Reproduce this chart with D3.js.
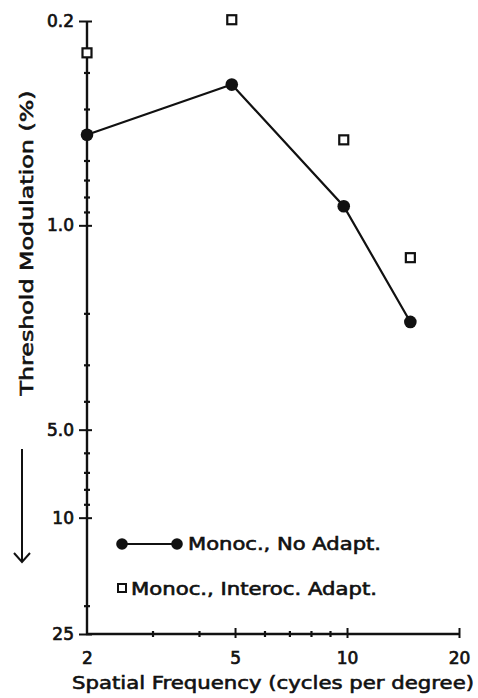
<!DOCTYPE html>
<html>
<head>
<meta charset="utf-8">
<script src="https://cdn.jsdelivr.net/npm/d3@7"></script>
<style>
  html, body { margin: 0; padding: 0; background: #fff; }
  svg { display: block; }
  text { font-family: "DejaVu Sans", sans-serif; fill: #111; stroke: #111; stroke-width: 0.6px; }
</style>
</head>
<body>
<svg id="chart" width="478" height="698"></svg>
<script>
// Spatial frequency (cycles per degree)
const frequencies = [2, 4.9, 9.8, 14.8];
// Threshold modulation (%), monocular, no adaptation
const noAdapt = [0.49, 0.33, 0.86, 2.14];
// Threshold modulation (%), monocular, interocular adaptation
const interocAdapt = [0.257, 0.198, 0.51, 1.29];

const xMajor = [2, 5, 10, 20];
const xMajorLabels = ["2", "5", "10", "20"];
const xMinor = [3, 4, 6, 7, 8, 9];
const yMajor = [0.2, 1, 5, 10, 25];
const yMajorLabels = ["0.2", "1.0", "5.0", "10", "25"];
const yMinor = [0.3, 0.4, 0.5, 0.6, 0.7, 0.8, 0.9, 2, 3, 4, 6, 7, 8, 9, 20];

const svg = d3.select("#chart");
const ink = "#111";

const x = d3.scaleLog().domain([2, 20]).range([87, 459]);
const y = d3.scaleLog().domain([0.2, 25]).range([21, 634]);

const x0 = x.range()[0];
const y0 = y.range()[1];

function styleLabels(g) {
  g.selectAll(".tick text")
    .attr("font-size", 17).attr("fill", ink)
    .style("font-family", "DejaVu Sans, sans-serif")
    .style("stroke", ink).style("stroke-width", "0.7px");
}

// Y axis: major ticks cross the line, minor ticks are short nubs
const yAxisG = svg.append("g").attr("transform", `translate(${x0},0)`);
yAxisG.call(d3.axisLeft(y).tickValues(yMajor)
  .tickFormat((d, i) => yMajorLabels[i]).tickSize(8).tickPadding(5));
yAxisG.select(".domain").remove();
yAxisG.selectAll(".tick line").attr("x1", 5).attr("x2", -8)
  .attr("stroke", ink).attr("stroke-width", 2);
styleLabels(yAxisG);

const yMinorG = svg.append("g").attr("transform", `translate(${x0},0)`);
yMinorG.call(d3.axisLeft(y).tickValues(yMinor).tickFormat("").tickSize(3));
yMinorG.select(".domain").remove();
yMinorG.selectAll(".tick line").attr("x1", 3).attr("x2", -3)
  .attr("stroke", ink).attr("stroke-width", 2.2);

// X axis
const xAxisG = svg.append("g").attr("transform", `translate(0,${y0})`);
xAxisG.call(d3.axisBottom(x).tickValues(xMajor)
  .tickFormat((d, i) => xMajorLabels[i]).tickSize(5).tickPadding(13));
xAxisG.select(".domain").remove();
xAxisG.selectAll(".tick line").attr("y1", -6).attr("y2", 4)
  .attr("stroke", ink).attr("stroke-width", 2);
xAxisG.selectAll(".tick").filter(d => d === 2).select("line").remove();
styleLabels(xAxisG);

const xMinorG = svg.append("g").attr("transform", `translate(0,${y0})`);
xMinorG.call(d3.axisBottom(x).tickValues(xMinor).tickFormat("").tickSize(3));
xMinorG.select(".domain").remove();
xMinorG.selectAll(".tick line").attr("y1", -3).attr("y2", 3)
  .attr("stroke", ink).attr("stroke-width", 2.2);

// Axis lines
svg.append("line").attr("x1", x0).attr("x2", x0)
  .attr("y1", y(0.2)).attr("y2", y0 + 1)
  .attr("stroke", ink).attr("stroke-width", 2.4);
svg.append("line").attr("x1", x0 - 1).attr("x2", x(20))
  .attr("y1", y0).attr("y2", y0)
  .attr("stroke", ink).attr("stroke-width", 2.4);

// Axis titles
svg.append("text")
  .attr("transform", "translate(33,243) rotate(-90)")
  .attr("text-anchor", "middle")
  .attr("font-size", 18)
  .attr("textLength", 305).attr("lengthAdjust", "spacingAndGlyphs")
  .text("Threshold Modulation (%)");

svg.append("text")
  .attr("x", 273).attr("y", 689)
  .attr("text-anchor", "middle")
  .attr("font-size", 18)
  .attr("textLength", 402).attr("lengthAdjust", "spacingAndGlyphs")
  .text("Spatial Frequency (cycles per degree)");

// Downward arrow beside the y title
svg.append("line").attr("x1", 22).attr("x2", 22).attr("y1", 449).attr("y2", 562)
  .attr("stroke", ink).attr("stroke-width", 2);
svg.append("path").attr("d", "M14,553 L22,562 L30,553")
  .attr("fill", "none").attr("stroke", ink).attr("stroke-width", 2);

// Data: connected filled circles
const pts = frequencies.map((f, i) => [x(f), y(noAdapt[i])]);
svg.append("path")
  .attr("d", d3.line()(pts))
  .attr("fill", "none").attr("stroke", ink).attr("stroke-width", 2.2);
svg.append("g").selectAll("circle").data(frequencies).join("circle")
  .attr("cx", d => x(d))
  .attr("cy", (d, i) => y(noAdapt[i]))
  .attr("r", 6.3).attr("fill", ink);

// Data: open squares
const sq = 9;
svg.append("g").selectAll("rect").data(frequencies).join("rect")
  .attr("x", d => x(d) - sq / 2)
  .attr("y", (d, i) => y(interocAdapt[i]) - sq / 2)
  .attr("width", sq).attr("height", sq)
  .attr("fill", "#fff").attr("stroke", ink).attr("stroke-width", 2.2);

// Legend
const lg = svg.append("g");
lg.append("line").attr("x1", 122).attr("x2", 177).attr("y1", 544).attr("y2", 544)
  .attr("stroke", ink).attr("stroke-width", 2);
lg.append("circle").attr("cx", 122).attr("cy", 544).attr("r", 5.8).attr("fill", ink);
lg.append("circle").attr("cx", 177).attr("cy", 544).attr("r", 5.8).attr("fill", ink);
lg.append("text").attr("x", 188).attr("y", 550).attr("font-size", 17)
  .attr("textLength", 193).attr("lengthAdjust", "spacingAndGlyphs")
  .text("Monoc., No Adapt.");
lg.append("rect").attr("x", 118).attr("y", 584).attr("width", 8).attr("height", 8)
  .attr("fill", "#fff").attr("stroke", ink).attr("stroke-width", 2);
lg.append("text").attr("x", 131).attr("y", 595).attr("font-size", 17)
  .attr("textLength", 246).attr("lengthAdjust", "spacingAndGlyphs")
  .text("Monoc., Interoc. Adapt.");
</script>
</body>
</html>
